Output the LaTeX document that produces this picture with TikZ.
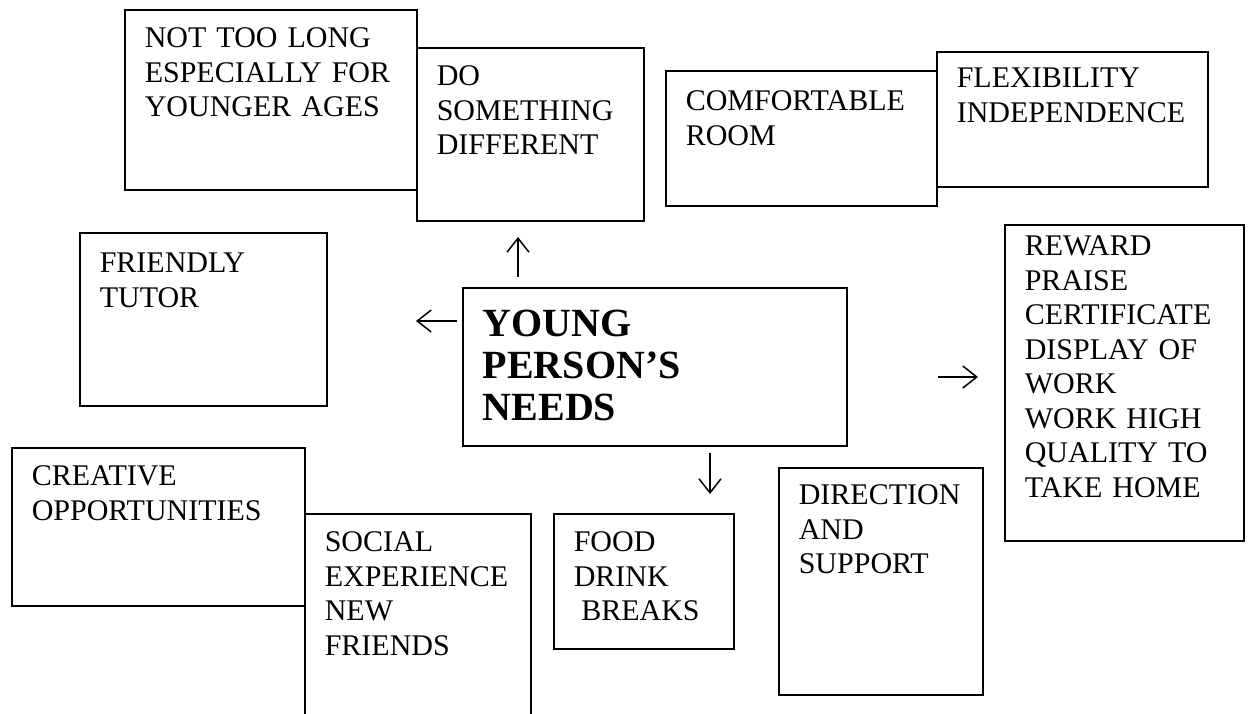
\documentclass[tikz,border=0pt]{standalone}
\usepackage{fontspec}
\setmainfont{Liberation Serif}
\usetikzlibrary{arrows.meta}

\begin{document}
\begin{tikzpicture}[x=1pt, y=-1pt, line width=1.6pt,
                    pbox/.style={draw, fill=white, anchor=north west, align=left,
                                 inner xsep=20pt, inner ysep=0pt, text height=38pt,
                                 font=\fontsize{30}{34.5}\selectfont},
                    hub/.style={pbox, font=\fontsize{40}{42}\selectfont\bfseries},
                    arr/.style={line width=1.5pt, -{Straight Barb[length=14pt, width=22pt]}}]
  \useasboundingbox (0,0) rectangle (1251,714);
  % top row
  \node[pbox, text width=252pt, text depth=142pt] (notlong) at (124,9)
    {NOT TOO LONG\\ESPECIALLY~FOR\\YOUNGER AGES};
  \node[pbox, text width=187pt, text depth=135pt] (dodiff) at (416,47)
    {DO\\SOMETHING\\DIFFERENT};
  \node[pbox, text width=231pt, text height=40pt, text depth=95pt] (comfroom) at (665,70)
    {COMFORTABLE\\ROOM};
  \node[pbox, text width=231pt, text height=36pt, text depth=99pt] (flex) at (936,51)
    {FLEXIBILITY\\INDEPENDENCE};
  % middle row
  \node[pbox, text width=207pt, text height=40pt, text depth=133pt] (friendly) at (79,232)
    {FRIENDLY\\TUTOR};
  \node[hub, text width=344pt, text height=49pt, text depth=109pt] (needs) at (462,287)
    {YOUNG\\PERSON’S\\NEEDS};
  \node[pbox, text width=199pt, text height=31pt, text depth=285pt] (reward) at (1004,224)
    {REWARD\\PRAISE\\CERTIFICATE\\DISPLAY OF\\WORK\\WORK HIGH\\QUALITY TO\\TAKE HOME};
  % bottom row
  \node[pbox, text width=253pt, text depth=120pt] (creative) at (11,447)
    {CREATIVE\\OPPORTUNITIES};
  \node[pbox, text width=186pt, text depth=209pt] (social) at (304,513)
    {SOCIAL\\EXPERIENCE\\NEW\\FRIENDS};
  \node[pbox, text width=140pt, text depth=97pt] (food) at (553,513)
    {FOOD\\DRINK\\\hspace*{0.25em}BREAKS};
  \node[pbox, text width=164pt, text height=37pt, text depth=190pt] (direction) at (778,467)
    {DIRECTION\\AND\\SUPPORT};
  % arrows
  \coordinate (upa) at (518,277);   \coordinate (upb) at (518,237);
  \coordinate (lefta) at (457,321); \coordinate (leftb) at (416,321);
  \coordinate (downa) at (710,453); \coordinate (downb) at (710,494);
  \coordinate (righta) at (938,377); \coordinate (rightb) at (978,377);
  \draw[arr] (upa) -- (upb);
  \draw[arr] (lefta) -- (leftb);
  \draw[arr] (downa) -- (downb);
  \draw[arr] (righta) -- (rightb);
\end{tikzpicture}
\end{document}
